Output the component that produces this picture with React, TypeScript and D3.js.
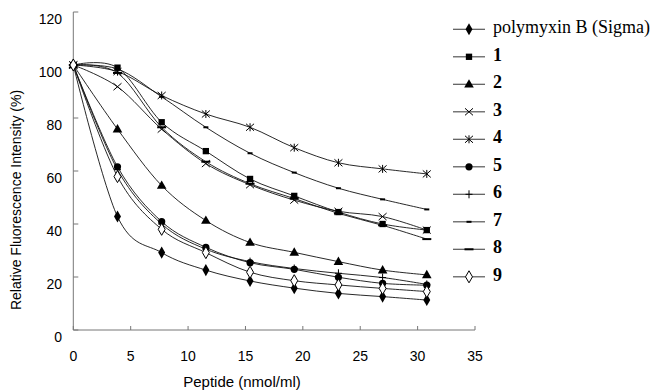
import React from "react";
import * as d3 from "d3";

const xValues = [0, 3.85, 7.7, 11.55, 15.4, 19.25, 23.1, 26.95, 30.8];
const seriesNames = ["polymyxin B (Sigma)", "1", "2", "3", "4", "5", "6", "7", "8", "9"];
const sPolymyxin = [100, 42.8, 29.2, 22.6, 18.5, 15.8, 13.8, 12.6, 11.3];
const s1 = [100, 99, 78.4, 67.5, 57, 50.6, 44.5, 40, 37.7];
const s2 = [100, 75.8, 54.5, 41.3, 33, 29.3, 25.8, 22.6, 20.8];
const s3 = [100, 91.8, 75.8, 62.8, 54.8, 49, 44.8, 42.8, 37.7];
const s4 = [100, 97.5, 88.5, 81.5, 76.5, 68.8, 63.1, 60.8, 58.9];
const s5 = [100, 61.6, 40.9, 31.2, 25.4, 22.9, 19.9, 17.6, 16.9];
const s6 = [100, 60.5, 40, 30.5, 25.8, 23.2, 21.4, 19.8, 17.2];
const s7 = [100, 98.5, 88, 76.5, 66.7, 59.4, 53.5, 49.3, 45.5];
const s8 = [100, 97, 76.5, 63.5, 55.2, 49.6, 44, 39.5, 34.3];
const s9 = [100, 57.9, 38, 29.2, 21.8, 18.6, 17, 15.7, 14.5];
const allSeries = [sPolymyxin, s1, s2, s3, s4, s5, s6, s7, s8, s9];
const markerKinds = ["diamond", "square", "triangle", "x", "asterisk", "circle", "plus", "dash", "longdash", "odiamond"];
const xTicks = [0, 5, 10, 15, 20, 25, 30, 35];
const yTicks = [0, 20, 40, 60, 80, 100, 120];

const W = 655, H = 392;
const x = d3.scaleLinear().domain([0, 35]).range([73.3, 475]);
const y = d3.scaleLinear().domain([0, 120]).range([330, 12]);

function Marker({ kind, cx, cy }: { kind: string; cx: number; cy: number }) {
  const s = "#000";
  switch (kind) {
    case "diamond":
      return <path d={d3.symbol(d3.symbolDiamond, 42)()!} transform={`translate(${cx},${cy})`} fill={s} />;
    case "odiamond":
      return <path d={d3.symbol(d3.symbolDiamond, 42)()!} transform={`translate(${cx},${cy})`} fill="#fff" stroke={s} strokeWidth={1} />;
    case "square":
      return <path d={d3.symbol(d3.symbolSquare, 40)()!} transform={`translate(${cx},${cy})`} fill={s} />;
    case "triangle":
      return <path d={d3.symbol(d3.symbolTriangle, 40)()!} transform={`translate(${cx},${cy + 0.5})`} fill={s} />;
    case "circle":
      return <circle cx={cx} cy={cy} r={3.6} fill={s} />;
    case "x":
      return (
        <g stroke={s} strokeWidth={1}>
          <line x1={cx - 4} y1={cy - 3.5} x2={cx + 4} y2={cy + 3.5} />
          <line x1={cx - 4} y1={cy + 3.5} x2={cx + 4} y2={cy - 3.5} />
        </g>
      );
    case "asterisk":
      return (
        <g stroke={s} strokeWidth={1}>
          <line x1={cx - 4} y1={cy - 3.5} x2={cx + 4} y2={cy + 3.5} />
          <line x1={cx - 4} y1={cy + 3.5} x2={cx + 4} y2={cy - 3.5} />
          <line x1={cx} y1={cy - 4} x2={cx} y2={cy + 4} />
        </g>
      );
    case "plus":
      return (
        <g stroke={s} strokeWidth={1}>
          <line x1={cx} y1={cy - 4} x2={cx} y2={cy + 4} />
          <line x1={cx - 3.5} y1={cy} x2={cx + 3.5} y2={cy} />
        </g>
      );
    case "dash":
      return <line x1={cx - 2.5} y1={cy} x2={cx + 2.5} y2={cy} stroke={s} strokeWidth={2} />;
    case "longdash":
      return <line x1={cx - 4.5} y1={cy} x2={cx + 4.5} y2={cy} stroke={s} strokeWidth={2} />;
    default:
      return null;
  }
}

export default function App() {
  const line = d3
    .line<number>()
    .x((_, i) => x(xValues[i]))
    .y((d) => y(d))
    .curve(d3.curveCatmullRom.alpha(0));

  const legendY0 = 29.3;
  const legendStep = 27.5;

  return (
    <svg width={W} height={H} style={{ position: "absolute", left: 0, top: 0, background: "#fff" }}>
      {/* axes */}
      <line x1={x(0)} y1={y(120)} x2={x(0)} y2={y(0)} stroke="#777" strokeWidth={1} />
      <line x1={x(0)} y1={y(0)} x2={x(35)} y2={y(0)} stroke="#777" strokeWidth={1} />
      {yTicks.map((t) => (
        <g key={"y" + t}>
          <line x1={x(0)} x2={x(0) + 5} y1={y(t)} y2={y(t)} stroke="#777" />
          <text x={62} y={y(t) + 8} textAnchor="end" dominantBaseline="middle" fontFamily="Liberation Sans, Arial, sans-serif" fontSize={14} fill="#000">
            {t}
          </text>
        </g>
      ))}
      {xTicks.map((t) => (
        <g key={"x" + t}>
          <line x1={x(t)} x2={x(t)} y1={y(0)} y2={y(0) - 4} stroke="#777" />
          <text x={x(t)} y={357} textAnchor="middle" dominantBaseline="middle" fontFamily="Liberation Sans, Arial, sans-serif" fontSize={14} fill="#000">
            {t}
          </text>
        </g>
      ))}
      <text x={242} y={383} textAnchor="middle" dominantBaseline="middle" fontFamily="Liberation Sans, Arial, sans-serif" fontSize={15} fill="#000">
        Peptide (nmol/ml)
      </text>
      <text
        transform={`translate(17,${200}) rotate(-90)`}
        textAnchor="middle"
        dominantBaseline="middle"
        fontFamily="Liberation Sans, Arial, sans-serif"
        fontSize={14}
        fill="#000"
      >
        Relative Fluorescence Intensity (%)
      </text>

      {/* series lines */}
      {allSeries.map((s, i) => (
        <path key={"l" + i} d={line(s)!} fill="none" stroke="#111" strokeWidth={0.9} />
      ))}
      {allSeries.map((s, i) => (
        <g key={"m" + i}>
          {s.map((v, j) => (
            <Marker key={j} kind={markerKinds[i]} cx={x(xValues[j])} cy={y(v)} />
          ))}
        </g>
      ))}

      {/* legend */}
      {seriesNames.map((name, i) => {
        const ly = legendY0 + i * legendStep;
        return (
          <g key={"lg" + i}>
            <line x1={453} x2={485} y1={ly} y2={ly} stroke="#555" strokeWidth={1.2} />
            <Marker kind={markerKinds[i]} cx={469} cy={ly} />
            <text
              x={493}
              y={ly}
              dominantBaseline="middle"
              fontFamily="Liberation Serif, Times New Roman, serif"
              fontSize={18}
              fontWeight={i === 0 ? "normal" : "bold"}
              fill="#000"
            >
              {name}
            </text>
          </g>
        );
      })}
    </svg>
  );
}
